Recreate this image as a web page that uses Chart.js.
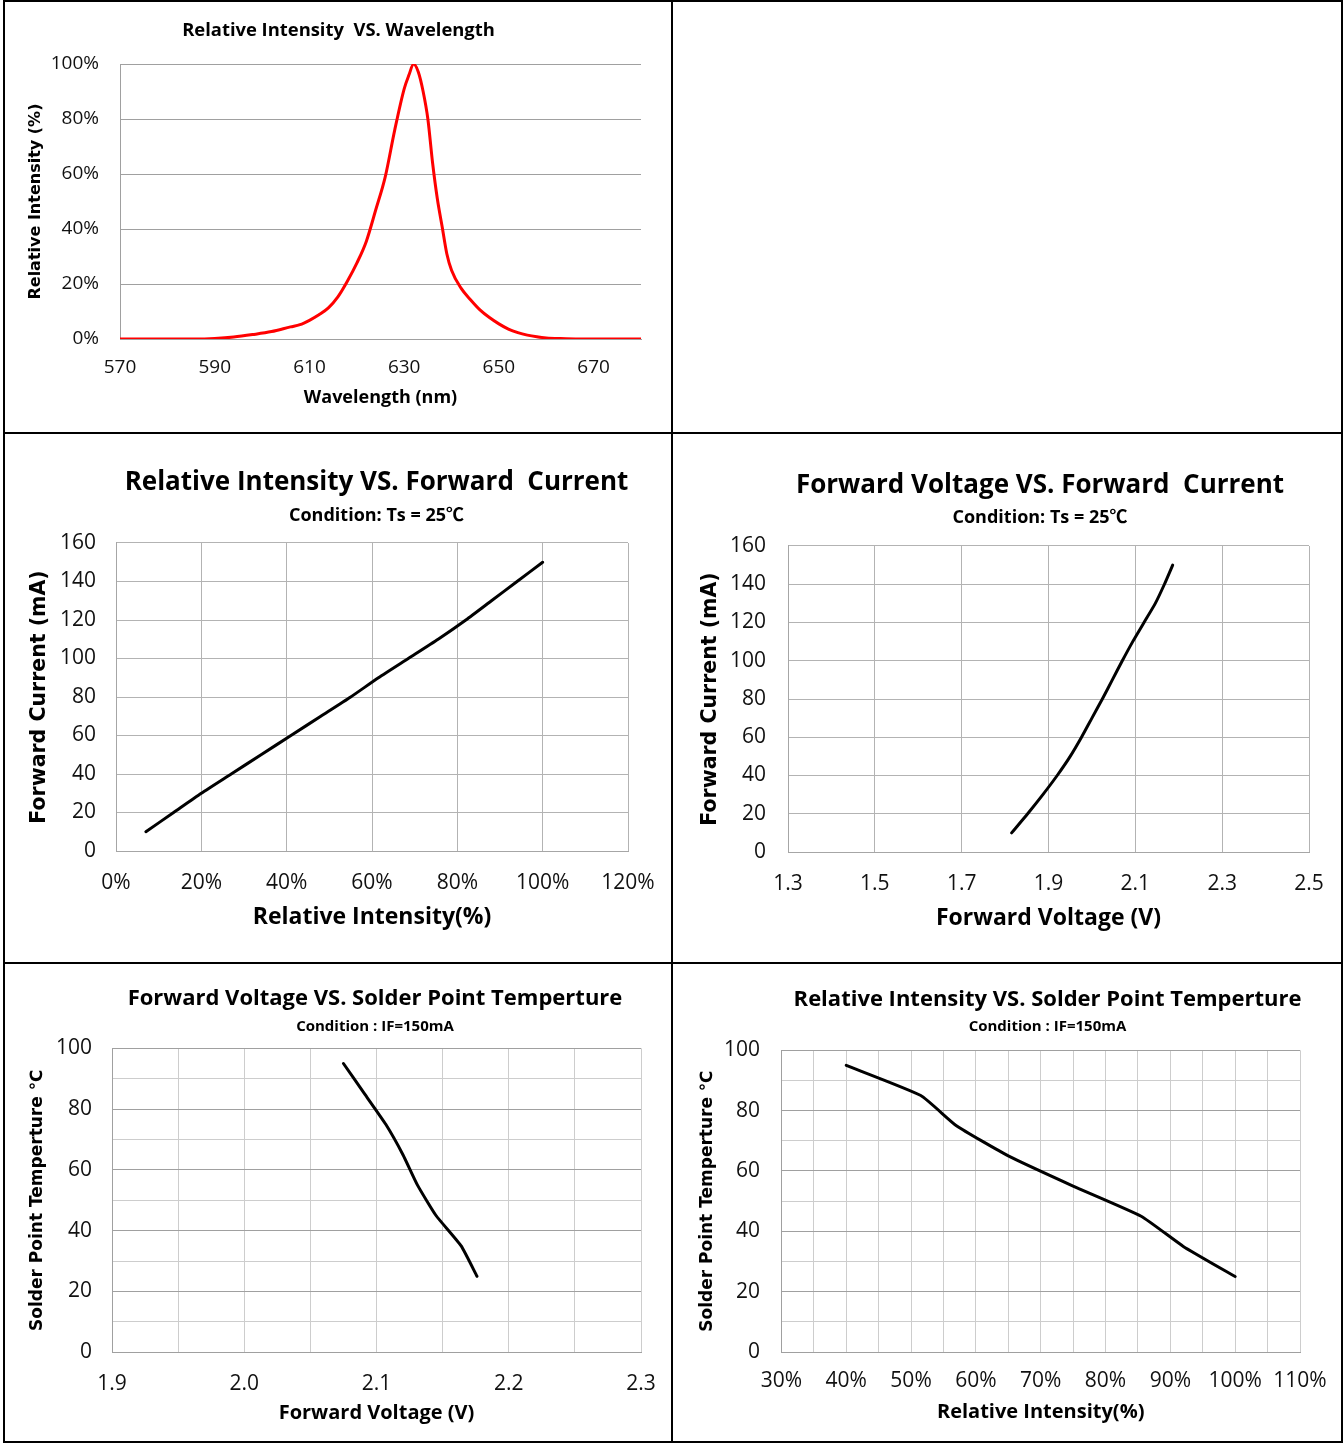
<!DOCTYPE html>
<html>
<head>
<meta charset="utf-8">
<title>LED characteristic curves</title>
<script src="https://cdn.jsdelivr.net/npm/chart.js@4.4.1/dist/chart.umd.min.js"></script>
<style>
  body { margin: 0; background: #fff; }
  #sheet { position: relative; width: 1343px; height: 1444px; }
  .rule { position: absolute; background: #000; }
  canvas { position: absolute; }
</style>
</head>
<body>
<div id="sheet">
  <!-- table frame -->
  <div class="rule" style="left:3px;top:0;width:1340px;height:2px"></div>
  <div class="rule" style="left:3px;top:1441px;width:1340px;height:2px"></div>
  <div class="rule" style="left:3px;top:0;width:2px;height:1443px"></div>
  <div class="rule" style="left:1341px;top:0;width:2px;height:1443px"></div>
  <div class="rule" style="left:671px;top:0;width:2px;height:1443px"></div>
  <div class="rule" style="left:3px;top:432px;width:1340px;height:2px"></div>
  <div class="rule" style="left:3px;top:962px;width:1340px;height:2px"></div>

  <canvas id="spectrum" width="666" height="430" style="left:5px;top:2px"></canvas>
  <canvas id="ivIntensity" width="666" height="528" style="left:5px;top:434px"></canvas>
  <canvas id="ivVoltage" width="668" height="528" style="left:673px;top:434px"></canvas>
  <canvas id="tempVoltage" width="666" height="477" style="left:5px;top:964px"></canvas>
  <canvas id="tempIntensity" width="668" height="477" style="left:673px;top:964px"></canvas>
</div>

<script>
// --- Data ---

// Relative intensity vs wavelength
const wavelengthNm = [570, 580, 586, 590, 594, 598, 602, 606, 608, 610, 612, 614, 616, 618, 620, 622, 624, 626, 628, 630, 631, 632, 633, 634, 635, 636, 637, 638, 639, 640, 642, 644, 646, 648, 650, 652, 654, 656, 658, 660, 663, 667, 680];
const spectrumPct  = [0, 0, 0, 0.2, 0.7, 1.6, 2.7, 4.4, 5.2, 6.8, 8.8, 11.3, 15.3, 21, 27.6, 35.5, 47, 59, 76, 91, 96, 100, 97, 90, 80, 64, 51, 41, 31, 25, 18.5, 14.3, 10.6, 7.8, 5.5, 3.6, 2.3, 1.4, 0.8, 0.4, 0.15, 0, 0];

// Forward current sweep (Ts = 25C)
const currentMa             = [10, 20, 30, 40, 50, 60, 70, 80, 90, 100, 110, 120, 130, 140, 150];
const intensityAtCurrentPct = [7, 13.5, 20, 27, 34, 41, 48, 55, 61.5, 68.5, 75.5, 82, 88, 94, 100];
const voltageAtCurrentV     = [1.815, 1.852, 1.887, 1.92, 1.95, 1.976, 2.0, 2.024, 2.047, 2.07, 2.094, 2.12, 2.146, 2.167, 2.186];

// Solder point temperature sweep (IF = 150mA)
const solderTempC        = [25, 35, 45, 55, 65, 75, 85, 95];
const voltageAtTempV     = [2.176, 2.164, 2.145, 2.131, 2.12, 2.107, 2.091, 2.075];
const intensityAtTempPct = [100, 92, 85.5, 75, 65, 57, 51.5, 40];

// Tick values and labels
const spectrumXTicks  = [570, 590, 610, 630, 650, 670];
const spectrumXLabels = ['570', '590', '610', '630', '650', '670'];
const spectrumYTicks  = [0, 20, 40, 60, 80, 100];
const spectrumYLabels = ['0%', '20%', '40%', '60%', '80%', '100%'];

const intensityTicks  = [0, 20, 40, 60, 80, 100, 120];
const intensityLabels = ['0%', '20%', '40%', '60%', '80%', '100%', '120%'];
const currentTicks    = [0, 20, 40, 60, 80, 100, 120, 140, 160];
const currentLabels   = ['0', '20', '40', '60', '80', '100', '120', '140', '160'];
const vfTicks         = [1.3, 1.5, 1.7, 1.9, 2.1, 2.3, 2.5];
const vfLabels        = ['1.3', '1.5', '1.7', '1.9', '2.1', '2.3', '2.5'];

const vtTicks         = [1.9, 1.95, 2.0, 2.05, 2.1, 2.15, 2.2, 2.25, 2.3];
const vtLabels        = ['1.9', '', '2.0', '', '2.1', '', '2.2', '', '2.3'];
const itTicks         = [30, 35, 40, 45, 50, 55, 60, 65, 70, 75, 80, 85, 90, 95, 100, 105, 110];
const itLabels        = ['30%', '', '40%', '', '50%', '', '60%', '', '70%', '', '80%', '', '90%', '', '100%', '', '110%'];
const tempTicks       = [0, 10, 20, 30, 40, 50, 60, 70, 80, 90, 100];
const tempLabels      = ['0', '', '20', '', '40', '', '60', '', '80', '', '100'];

// --- Helpers ---

const SANS = "'Open Sans', 'Noto Sans CJK SC', sans-serif";
const WIDE = "'DejaVu Sans', 'Noto Sans CJK SC', sans-serif";

// nudges title + subtitle sideways (datasheet titles are not exactly over the plot)
const titleShift = {
    id: 'titleShift',
    afterLayout(chart, args, opts) {
        const dx = opts.dx || 0;
        chart.boxes.forEach(b => {
            if (!b.axis && b.options && typeof b.options.text === 'string') {
                b.left += dx;
                b.right += dx;
            }
        });
    }
};

function points(xs, ys) {
    return xs.map((x, i) => ({ x: x, y: ys[i] }));
}

function axis(a) {
    return {
        type: 'linear',
        min: a.min,
        max: a.max,
        afterBuildTicks: s => { s.ticks = a.ticks.map(v => ({ value: v })); },
        afterFit: s => {
            if (s.isHorizontal()) s.height = a.size; else s.width = a.size;
            // keep the plot area where the layout puts it, labels may overhang
            s.paddingLeft = s.paddingRight = s.paddingTop = s.paddingBottom = 0;
        },
        ticks: {
            autoSkip: false, maxRotation: 0, padding: a.tickPad, color: '#111',
            font: { family: SANS, size: a.tickFont },
            callback: (v, i) => a.labels[i]
        },
        grid: {
            display: a.grid !== false, drawTicks: false, lineWidth: 1,
            color: a.gridColor || '#b3b3b3'
        },
        border: { display: true, color: a.borderColor || '#a6a6a6', width: 1 },
        title: {
            display: true, text: a.title, color: '#000',
            font: { family: a.titleFamily || SANS, size: a.titleFont, weight: 'bold' },
            padding: a.titlePad
        }
    };
}

function lineChart(id, c) {
    return new Chart(document.getElementById(id), {
        type: 'scatter',
        data: {
            datasets: [{
                data: points(c.xs, c.ys),
                showLine: true,
                pointRadius: 0,
                borderColor: c.color || '#000',
                borderWidth: 3,
                borderCapStyle: 'round',
                borderJoinStyle: 'round',
                tension: c.tension,
                cubicInterpolationMode: c.monotone ? 'monotone' : 'default'
            }]
        },
        options: {
            responsive: false,
            animation: false,
            events: [],
            layout: { padding: { left: 0, top: 0, bottom: 0, right: c.padRight } },
            scales: { x: axis(c.x), y: axis(c.y) },
            plugins: {
                legend: { display: false },
                tooltip: { enabled: false },
                titleShift: { dx: c.dx || 0 },
                title: {
                    display: true, text: c.title, color: '#000', fullSize: false,
                    font: { family: SANS, size: c.titleFont, weight: 'bold', lineHeight: 1.2 },
                    padding: c.titlePad
                },
                subtitle: {
                    display: !!c.subtitle, text: c.subtitle || '', color: '#000', fullSize: false,
                    font: { family: SANS, size: c.subFont || 12, weight: 'bold', lineHeight: 1.2 },
                    padding: c.subPad
                }
            }
        },
        plugins: [titleShift]
    });
}

// --- Charts ---

lineChart('spectrum', {
    xs: wavelengthNm, ys: spectrumPct, color: '#ff0000', tension: 0.4, monotone: true,
    title: 'Relative Intensity  VS. Wavelength', titleFont: 18.4,
    titlePad: { top: 18, bottom: 22 },
    padRight: 30, dx: -42,
    x: { min: 570, max: 680, ticks: spectrumXTicks, labels: spectrumXLabels, size: 93,
         tickPad: 17.6, tickFont: 19, grid: false, borderColor: '#a0a0a0',
         title: 'Wavelength (nm)', titleFont: 18, titlePad: { top: 0, bottom: 23.2 } },
    y: { min: 0, max: 100, ticks: spectrumYTicks, labels: spectrumYLabels, size: 115,
         tickPad: 21, tickFont: 19, gridColor: '#a0a0a0', borderColor: '#a0a0a0',
         title: 'Relative Intensity (%)', titleFamily: WIDE, titleFont: 16,
         titlePad: { top: 21.4, bottom: 0 } }
});

lineChart('ivIntensity', {
    xs: intensityAtCurrentPct, ys: currentMa, tension: 0.2,
    title: 'Relative Intensity VS. Forward  Current', titleFont: 26,
    titlePad: { top: 33.4, bottom: 0 },
    subtitle: 'Condition: Ts = 25℃', subFont: 18, subPad: { top: 6.6, bottom: 16.2 },
    padRight: 43, dx: 4.5,
    x: { min: 0, max: 120, ticks: intensityTicks, labels: intensityLabels, size: 111,
         tickPad: 19.4, tickFont: 21,
         title: 'Relative Intensity(%)', titleFont: 23, titlePad: { top: 0, bottom: 31.2 } },
    y: { min: 0, max: 160, ticks: currentTicks, labels: currentLabels, size: 111,
         tickPad: 20, tickFont: 21,
         title: 'Forward Current (mA)', titleFamily: WIDE, titleFont: 20.5,
         titlePad: { top: 22.7, bottom: 0 } }
});

lineChart('ivVoltage', {
    xs: voltageAtCurrentV, ys: currentMa, tension: 0.2,
    title: 'Forward Voltage VS. Forward  Current', titleFont: 26,
    titlePad: { top: 36.4, bottom: 0 },
    subtitle: 'Condition: Ts = 25℃', subFont: 18, subPad: { top: 5.6, bottom: 17.2 },
    padRight: 32, dx: -8.5,
    x: { min: 1.3, max: 2.5, ticks: vfTicks, labels: vfLabels, size: 110,
         tickPad: 19.4, tickFont: 21,
         title: 'Forward Voltage (V)', titleFont: 23, titlePad: { top: 0, bottom: 30.2 } },
    y: { min: 0, max: 160, ticks: currentTicks, labels: currentLabels, size: 115,
         tickPad: 22, tickFont: 21,
         title: 'Forward Current (mA)', titleFamily: WIDE, titleFont: 20.5,
         titlePad: { top: 25.7, bottom: 0 } }
});

const minorGrid = '#cdcdcd';
const majorGrid = '#a0a0a0';

lineChart('tempVoltage', {
    xs: voltageAtTempV, ys: solderTempC, tension: 0.15,
    title: 'Forward Voltage VS. Solder Point Temperture', titleFont: 22,
    titlePad: { top: 21.8, bottom: 0 },
    subtitle: 'Condition : IF=150mA', subFont: 15, subPad: { top: 5.8, bottom: 12.3 },
    padRight: 30, dx: -1.5,
    x: { min: 1.9, max: 2.3, ticks: vtTicks, labels: vtLabels, size: 88.7,
         tickPad: 19.1, tickFont: 21, gridColor: minorGrid, borderColor: majorGrid,
         title: 'Forward Voltage (V)', titleFont: 20, titlePad: { top: 0, bottom: 16 } },
    y: { min: 0, max: 100, ticks: tempTicks, labels: tempLabels, size: 107,
         tickPad: 20, tickFont: 21, borderColor: majorGrid,
         gridColor: c => tempLabels[c.index] ? majorGrid : minorGrid,
         title: 'Solder Point Temperture ℃', titleFamily: WIDE, titleFont: 17,
         titlePad: { top: 22.8, bottom: 0 } }
});

lineChart('tempIntensity', {
    xs: intensityAtTempPct, ys: solderTempC, tension: 0.15,
    title: 'Relative Intensity VS. Solder Point Temperture', titleFont: 22,
    titlePad: { top: 22.8, bottom: 0 },
    subtitle: 'Condition : IF=150mA', subFont: 15, subPad: { top: 4.8, bottom: 14.3 },
    padRight: 41, dx: 6.8,
    x: { min: 30, max: 110, ticks: itTicks, labels: itLabels, size: 89,
         tickPad: 16.4, tickFont: 21, gridColor: minorGrid, borderColor: majorGrid,
         title: 'Relative Intensity(%)', titleFont: 20, titlePad: { top: 0, bottom: 17 } },
    y: { min: 0, max: 100, ticks: tempTicks, labels: tempLabels, size: 108.4,
         tickPad: 21.4, tickFont: 21, borderColor: majorGrid,
         gridColor: c => tempLabels[c.index] ? majorGrid : minorGrid,
         title: 'Solder Point Temperture ℃', titleFamily: WIDE, titleFont: 17,
         titlePad: { top: 24.8, bottom: 0 } }
});
</script>
</body>
</html>
